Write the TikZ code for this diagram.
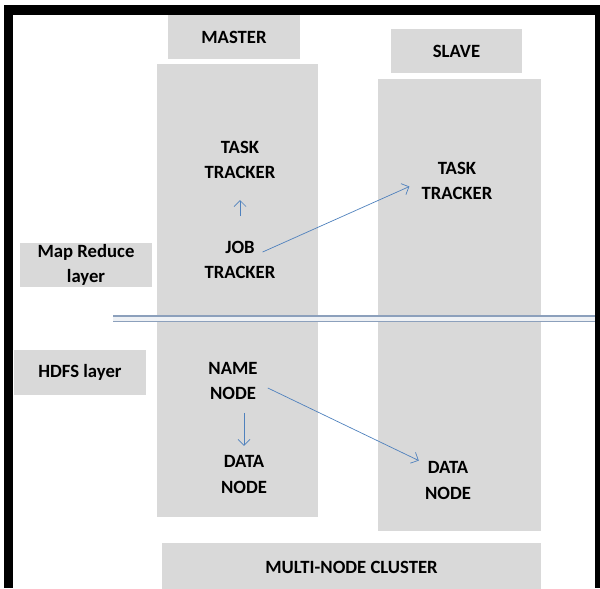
\documentclass[tikz,border=0pt]{standalone}
\usepackage{fontspec}
\setmainfont{Carlito}
\usetikzlibrary{arrows.meta,positioning}
\definecolor{panelgray}{RGB}{217,217,217}
\definecolor{linkblue}{RGB}{79,129,189}
\definecolor{layerline}{RGB}{140,160,188}

\begin{document}
\begin{tikzpicture}[x=0.025cm, y=-0.025cm,
        panel/.style={fill=panelgray, align=center, inner sep=0pt, font=\bfseries\fontsize{13.3}{17.8}\selectfont},
        txt/.style={align=center, inner sep=0pt, font=\bfseries\fontsize{13.3}{17.8}\selectfont},
        arrow/.style={-{Straight Barb[length=0.15cm,width=0.3cm]}, linkblue, line width=0.5pt}
    ]
        \useasboundingbox (0,0) rectangle (600,588);

        % machine columns
        \fill[panelgray] (157,64) rectangle (318,517);
        \fill[panelgray] (378,79) rectangle (541,531);

        \node[panel, minimum width=3.3cm, minimum height=1.1cm] (master) at (234,37) {MASTER};
        \node[panel, minimum width=3.275cm, minimum height=1.1cm] (slave) at (456.5,51) {SLAVE};
        \node[panel, minimum width=3.3cm, minimum height=1.1cm] (mrlayer) at (86,265) {Map Reduce\\layer};
        \node[panel, minimum width=3.3cm, minimum height=1.125cm] (hdfslayer) at (80,372.5) {HDFS layer};
        \node[panel, minimum width=9.475cm, minimum height=1.2cm] (cluster) at (351.5,567) {MULTI-NODE CLUSTER};

        % layer divider
        \draw[layerline, line width=0.045cm, double=white!85!layerline, double distance=0.1cm] (113,318.5) -- (596,318.5);

        \node[txt] (mtask) at (240,160) {TASK\\TRACKER};
        \node[txt] (jobtr) at (240,260) {JOB\\TRACKER};
        \node[txt] (stask) at (457,180.5) {TASK\\TRACKER};
        \node[txt] (namenode) at (233,381) {NAME\\NODE};
        \node[txt] (mdata) at (244,474.5) {DATA\\NODE};
        \node[txt] (sdata) at (448,480.5) {DATA\\NODE};

        \draw[arrow, shorten <=0.625cm, shorten >=0.525cm] (jobtr.north) -- (mtask.south);
        \draw[arrow] ([shift={(-13,11)}]jobtr.north east) -- ([shift={(-12,6)}]stask.west);
        \draw[arrow, shorten <=0.325cm, shorten >=0.24cm] (mdata.north |- namenode.south) -- (mdata.north);
        \draw[arrow] ([shift={(10,7)}]namenode.east) -- ([shift={(-6,-1)}]sdata.north west);

        % frame
        \fill[black] (4,5) rectangle (13,588);
        \fill[black] (4,5) rectangle (600,15);
        \fill[black] (595,5) rectangle (600,588);
    \end{tikzpicture}
\end{document}
